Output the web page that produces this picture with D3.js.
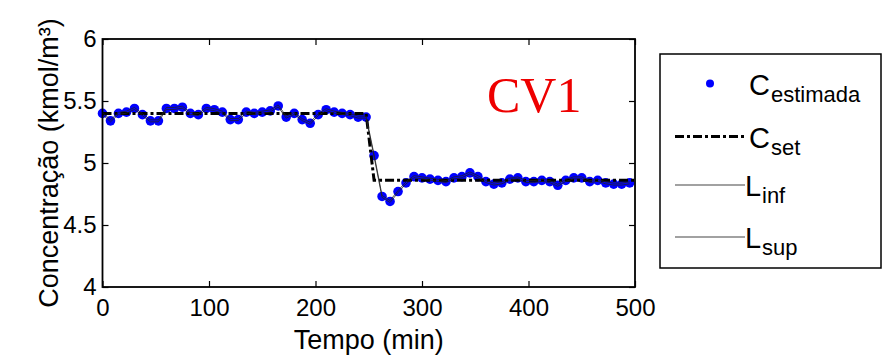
<!DOCTYPE html>
<html>
<head>
<meta charset="utf-8">
<script src="https://cdn.jsdelivr.net/npm/d3@7/dist/d3.min.js"></script>
<style>
  body { margin: 0; background: #fff; }
</style>
</head>
<body>
<script>
const timeMin = [0, 7.5, 15, 22.5, 30, 37.5, 45, 52.5, 60, 67.5,
  75, 82.5, 90, 97.5, 105, 112.5, 120, 127.5, 135, 142.5,
  150, 157.5, 165, 172.5, 180, 187.5, 195, 202.5, 210, 217.5,
  225, 232.5, 240, 247.5, 255, 262.5, 270, 277.5, 285, 292.5,
  300, 307.5, 315, 322.5, 330, 337.5, 345, 352.5, 360, 367.5,
  375, 382.5, 390, 397.5, 405, 412.5, 420, 427.5, 435, 442.5,
  450, 457.5, 465, 472.5, 480, 487.5, 495];

const cEstimada = [5.40, 5.34, 5.40, 5.41, 5.44, 5.39, 5.34, 5.34, 5.44, 5.44,
  5.45, 5.40, 5.39, 5.44, 5.43, 5.41, 5.35, 5.35, 5.41, 5.40,
  5.41, 5.42, 5.46, 5.37, 5.40, 5.35, 5.32, 5.39, 5.43, 5.41,
  5.40, 5.39, 5.37, 5.37, 5.06, 4.73, 4.69, 4.77, 4.84, 4.89,
  4.88, 4.87, 4.86, 4.85, 4.88, 4.89, 4.92, 4.89, 4.85, 4.83,
  4.84, 4.87, 4.88, 4.85, 4.85, 4.86, 4.85, 4.82, 4.86, 4.88,
  4.88, 4.85, 4.86, 4.84, 4.83, 4.83, 4.84];

const lInf = [5.392, 5.332, 5.392, 5.402, 5.432, 5.382, 5.332, 5.332, 5.432, 5.432,
  5.442, 5.392, 5.382, 5.432, 5.422, 5.402, 5.342, 5.342, 5.402, 5.392,
  5.402, 5.412, 5.452, 5.362, 5.392, 5.342, 5.312, 5.382, 5.422, 5.402,
  5.392, 5.382, 5.362, 5.362, 5.052, 4.722, 4.682, 4.762, 4.832, 4.882,
  4.872, 4.862, 4.852, 4.842, 4.872, 4.882, 4.912, 4.882, 4.842, 4.822,
  4.832, 4.862, 4.872, 4.842, 4.842, 4.852, 4.842, 4.812, 4.852, 4.872,
  4.872, 4.842, 4.852, 4.832, 4.822, 4.822, 4.832];

const lSup = [5.408, 5.348, 5.408, 5.418, 5.448, 5.398, 5.348, 5.348, 5.448, 5.448,
  5.458, 5.408, 5.398, 5.448, 5.438, 5.418, 5.358, 5.358, 5.418, 5.408,
  5.418, 5.428, 5.468, 5.378, 5.408, 5.358, 5.328, 5.398, 5.438, 5.418,
  5.408, 5.398, 5.378, 5.378, 5.068, 4.738, 4.698, 4.778, 4.848, 4.898,
  4.888, 4.878, 4.868, 4.858, 4.888, 4.898, 4.928, 4.898, 4.858, 4.838,
  4.848, 4.878, 4.888, 4.858, 4.858, 4.868, 4.858, 4.828, 4.868, 4.888,
  4.888, 4.858, 4.868, 4.848, 4.838, 4.838, 4.848];

const csetTime = [0, 247.5, 255, 500];
const cSet = [5.40, 5.40, 4.86, 4.86];

const xTicks = [0, 100, 200, 300, 400, 500];
const yTicks = [4, 4.5, 5, 5.5, 6];

const legendLabels = [
  { main: 'C', sub: 'estimada' },
  { main: 'C', sub: 'set' },
  { main: 'L', sub: 'inf' },
  { main: 'L', sub: 'sup' }
];

const sans = '"Liberation Sans", Arial, sans-serif';
const svgDims = { width: 883, height: 356 };
const plot = { left: 102.5, right: 635, top: 39, bottom: 287 };

const svg = d3.select('body').append('svg')
  .attr('width', svgDims.width)
  .attr('height', svgDims.height)
  .attr('font-family', sans);

const x = d3.scaleLinear().domain([0, 500]).range([plot.left, plot.right]);
const y = d3.scaleLinear().domain([4, 6]).range([plot.bottom, plot.top]);

const graph = svg.append('g');

// estimated points
graph.selectAll('circle.est')
  .data(timeMin)
  .enter()
  .append('circle')
  .attr('class', 'est')
  .attr('cx', d => x(d))
  .attr('cy', (d, i) => y(cEstimada[i]))
  .attr('r', 4.8)
  .attr('fill', '#0000ff');

const line = d3.line().x(d => x(d[0])).y(d => y(d[1]));

graph.append('path')
  .datum(csetTime.map((t, i) => [t, cSet[i]]))
  .attr('d', line)
  .attr('fill', 'none')
  .attr('stroke', '#000')
  .attr('stroke-width', 3)
  .attr('stroke-dasharray', '9,3,3,3');

[lInf, lSup].forEach(series => {
  graph.append('path')
    .datum(timeMin.map((t, i) => [t, series[i]]))
    .attr('d', line)
    .attr('fill', 'none')
    .attr('stroke', '#222')
    .attr('stroke-width', 0.8);
});

// axes, matlab style box with inner ticks
const xAxis = d3.axisBottom(x).tickValues(xTicks).tickSizeInner(-6).tickSizeOuter(0).tickPadding(12);
const yAxis = d3.axisLeft(y).tickValues(yTicks).tickSizeInner(-6).tickSizeOuter(0).tickPadding(6)
  .tickFormat(d3.format('~g'));
const xTop = d3.axisTop(x).tickValues(xTicks).tickSizeInner(-6).tickSizeOuter(0).tickFormat('');
const yRight = d3.axisRight(y).tickValues(yTicks).tickSizeInner(-6).tickSizeOuter(0).tickFormat('');

svg.append('g').attr('transform', `translate(0,${plot.bottom})`).call(xAxis);
svg.append('g').attr('transform', `translate(${plot.left},0)`).call(yAxis);
svg.append('g').attr('transform', `translate(0,${plot.top})`).call(xTop);
svg.append('g').attr('transform', `translate(${plot.right},0)`).call(yRight);

svg.selectAll('.domain').remove();
svg.selectAll('.tick line').attr('stroke', '#000').attr('stroke-width', 1.2);
svg.selectAll('.tick text')
  .attr('font-family', sans)
  .attr('font-size', 24)
  .attr('fill', '#000');

svg.append('rect')
  .attr('x', plot.left)
  .attr('y', plot.top)
  .attr('width', plot.right - plot.left)
  .attr('height', plot.bottom - plot.top)
  .attr('fill', 'none')
  .attr('stroke', '#000')
  .attr('stroke-width', 1.8);

svg.append('text')
  .attr('x', (plot.left + plot.right) / 2)
  .attr('y', 349)
  .attr('text-anchor', 'middle')
  .attr('font-size', 27)
  .text('Tempo (min)');

svg.append('text')
  .attr('transform', `translate(58,${(plot.top + plot.bottom) / 2}) rotate(-90)`)
  .attr('text-anchor', 'middle')
  .attr('font-size', 27)
  .text('Concentração (kmol/m³)');

svg.append('text')
  .attr('x', 487)
  .attr('y', 112)
  .attr('font-family', '"Liberation Serif", "Times New Roman", serif')
  .attr('font-size', 50)
  .attr('fill', '#ee0000')
  .text('CV1');

// legend
const legend = svg.append('g');
legend.append('rect')
  .attr('x', 660)
  .attr('y', 54)
  .attr('width', 221)
  .attr('height', 214)
  .attr('fill', '#fff')
  .attr('stroke', '#000')
  .attr('stroke-width', 1.5);

const rowY = [83.5, 136.5, 185, 237];
const mainX = [749, 749, 745, 745];
const subX = [771, 771, 762, 762];

legend.append('circle')
  .attr('cx', 710).attr('cy', rowY[0]).attr('r', 4)
  .attr('fill', '#0000ff');

legend.append('line')
  .attr('x1', 675).attr('x2', 745).attr('y1', rowY[1]).attr('y2', rowY[1])
  .attr('stroke', '#000').attr('stroke-width', 3)
  .attr('stroke-dasharray', '9,3,3,3');

[2, 3].forEach(i => {
  legend.append('line')
    .attr('x1', 675).attr('x2', 745).attr('y1', rowY[i]).attr('y2', rowY[i])
    .attr('stroke', '#444').attr('stroke-width', 1.2);
});

legendLabels.forEach((d, i) => {
  legend.append('text')
    .attr('x', mainX[i])
    .attr('y', rowY[i] + 11)
    .attr('font-size', 29)
    .text(d.main);
  legend.append('text')
    .attr('x', subX[i])
    .attr('y', rowY[i] + 18)
    .attr('font-size', 22)
    .text(d.sub);
});
</script>
</body>
</html>
